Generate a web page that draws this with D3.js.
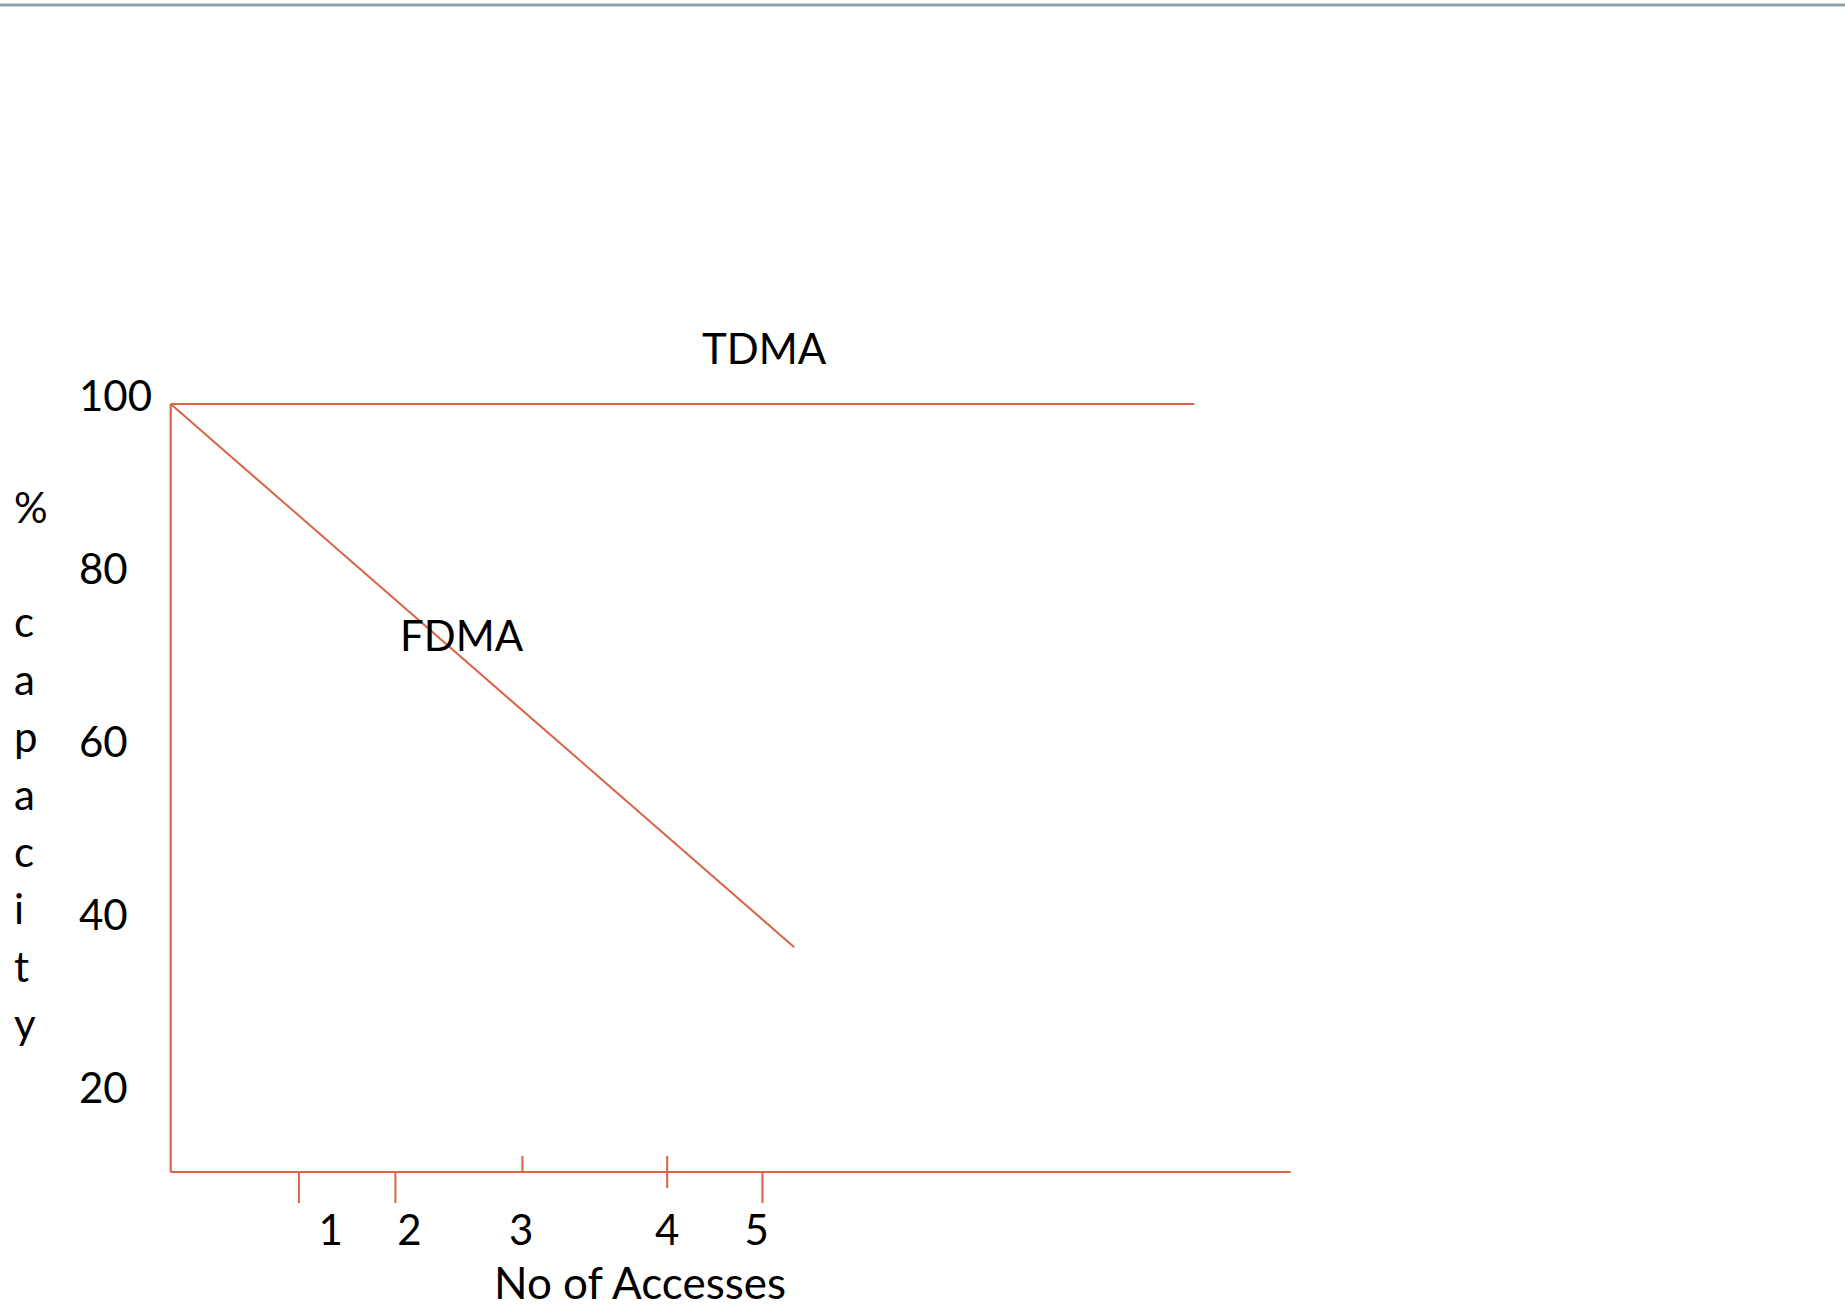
<!DOCTYPE html>
<html>
<head>
<meta charset="utf-8">
<script src="https://cdn.jsdelivr.net/npm/d3@7"></script>
<style>
  html, body { margin: 0; padding: 0; background: #ffffff; }
  svg { display: block; }
  text { font-family: Lato, "Open Sans", sans-serif; fill: #000; }
</style>
</head>
<body>
<svg id="chart" width="1845" height="1312"></svg>
<script>
// ---- data ----
const seriesNames = ["TDMA", "FDMA"];
const tdmaX = [0, 8.70];
const tdmaY = [100, 100];
const fdmaX = [0, 5.30];
const fdmaY = [100, 37.2];

const xTickValues = [1.09, 1.91, 2.99, 4.22, 5.03];      // hand-drawn tick marks
const xTickLabels = ["1", "2", "3", "4", "5"];
const xLabelValues = [1.36, 2.03, 2.98, 4.22, 4.98];     // where each label sits
const xTickSide = ["below", "below", "above", "cross", "below"];
const yTickValues = [100, 80, 60, 40, 20];
const yTickLabels = ["100", "80", "60", "40", "20"];
const xAxisMax = 9.52;
const yAxisMin = 11.2;
const xTitle = "No of Accesses";
const yTitleLines = ["%", "", "c", "a", "p", "a", "c", "i", "t", "y"];

// ---- layout ----
const svg = d3.select("#chart");
const W = 1845;
const red = "#dc6446";
const x = d3.scaleLinear().domain([0, xAxisMax]).range([170.7, 1290.7]);
const y = d3.scaleLinear().domain([yAxisMin, 100]).range([1172, 404]);

// top rule
svg.append("line").attr("x1", 0).attr("x2", W).attr("y1", 5).attr("y2", 5)
  .attr("stroke", "#93acb0").attr("stroke-width", 3);
svg.append("line").attr("x1", 0).attr("x2", W).attr("y1", 5).attr("y2", 5)
  .attr("stroke", "#7f999e").attr("stroke-width", 1);

// axes
svg.append("line")
  .attr("x1", x(0)).attr("x2", x(0)).attr("y1", y(100)).attr("y2", y(yAxisMin))
  .attr("stroke", red).attr("stroke-width", 2.2);
svg.append("line")
  .attr("x1", x(0)).attr("x2", x(xAxisMax)).attr("y1", y(yAxisMin)).attr("y2", y(yAxisMin))
  .attr("stroke", red).attr("stroke-width", 2.2);

// x ticks
const tickLen = 31, halfLen = 16;
svg.append("g").selectAll("line").data(xTickValues).join("line")
  .attr("x1", d => x(d)).attr("x2", d => x(d))
  .attr("y1", (d, i) => xTickSide[i] === "below" ? y(yAxisMin) : y(yAxisMin) - halfLen)
  .attr("y2", (d, i) => xTickSide[i] === "below" ? y(yAxisMin) + tickLen
                       : xTickSide[i] === "above" ? y(yAxisMin) : y(yAxisMin) + halfLen)
  .attr("stroke", red).attr("stroke-width", 2);

svg.append("g").selectAll("text").data(xLabelValues).join("text")
  .attr("x", d => x(d)).attr("y", 1245)
  .attr("text-anchor", "middle").attr("font-size", 42)
  .text((d, i) => xTickLabels[i]);

// y tick labels
svg.append("g").selectAll("text").data(yTickValues).join("text")
  .attr("x", 79).attr("y", d => y(d) + 7)
  .attr("font-size", 42)
  .text((d, i) => yTickLabels[i]);

// axis titles
svg.append("text").attr("x", 640).attr("y", 1299).attr("text-anchor", "middle")
  .attr("font-size", 44).text(xTitle);
svg.append("g").selectAll("text").data(yTitleLines).join("text")
  .attr("x", 14).attr("y", (d, i) => 522.5 + i * 57.4)
  .attr("font-size", 42).text(d => d);

// series lines
const line = d3.line().x(d => x(d[0])).y(d => y(d[1]));
const tdma = tdmaX.map((v, i) => [v, tdmaY[i]]);
const fdma = fdmaX.map((v, i) => [v, fdmaY[i]]);
svg.append("path").datum(tdma).attr("d", line)
  .attr("fill", "none").attr("stroke", red).attr("stroke-width", 2);
svg.append("path").datum(fdma).attr("d", line)
  .attr("fill", "none").attr("stroke", red).attr("stroke-width", 2);

// series labels
svg.append("text").attr("x", 702).attr("y", 364).attr("font-size", 42).text(seriesNames[0]);
svg.append("text").attr("x", 400).attr("y", 651).attr("font-size", 42).text(seriesNames[1]);
</script>
</body>
</html>
